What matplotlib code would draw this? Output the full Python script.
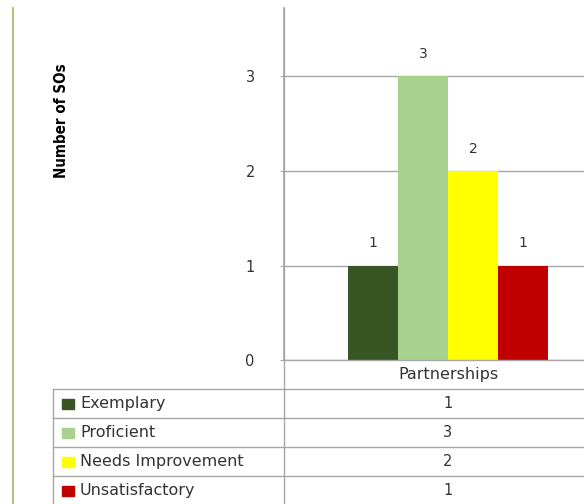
import matplotlib.pyplot as plt
from matplotlib.lines import Line2D
from matplotlib.patches import Rectangle

# data ---------------------
category = "Partnerships"
series = ["Exemplary", "Proficient", "Needs Improvement", "Unsatisfactory"]
values = [1, 3, 2, 1]
colors = ["#375623", "#A9D18E", "#FFFF00", "#C00000"]
yticks = [0, 1, 2, 3]

W, H = 584, 504
fig = plt.figure(figsize=(W / 100, H / 100), dpi=100)


def fx(px):
    return px / W


def fy(py):
    return 1 - py / H


# plot area: y axis at x=284, baseline at y=360, top at y=8; category spans 284..612
ax = fig.add_axes([fx(284), fy(360), fx(584 - 284), fy(8) - fy(360)])
span = 328.0
ax.set_xlim(-0.5, -0.5 + 300 / span)
ax.set_ylim(0, (360 - 8) / 94.5)

bw = 50 / span
grey = "#A6A6A6"
txt = "#333333"
for i, (name, v, c) in enumerate(zip(series, values, colors)):
    x = (i - 1.5) * bw
    ax.bar(x, v, width=bw, color=c, zorder=3)
    ax.annotate(str(v), (x, v), xytext=(0, 11), textcoords="offset points",
                ha="center", va="bottom", fontsize=10, color=txt)

ax.set_yticks(yticks)
ax.set_yticklabels([str(t) for t in yticks], fontsize=10.5, color=txt)
ax.tick_params(axis="y", length=3, color=grey, pad=18)
ax.set_xticks([])
ax.grid(axis="y", color=grey, linewidth=1, zorder=0)
for s in ["top", "right", "bottom"]:
    ax.spines[s].set_visible(False)
ax.spines["left"].set_color(grey)
ax.spines["left"].set_linewidth(1.2)

fig.text(fx(62), fy(121), "Number of SOs", rotation=90, ha="center", va="center",
         fontsize=10.8, fontweight="bold", fontstretch="condensed", family="DejaVu Sans")

# left green border
fig.add_artist(Line2D([fx(13), fx(13)], [fy(8), fy(504)], color="#9BBB59", linewidth=1.2))

# data table -----------------
row_h = 29
top = 360
cx = 284 + span / 2
tbl = dict(color=grey, linewidth=1)
fig.add_artist(Line2D([fx(284), fx(584)], [fy(top), fy(top)], **tbl))
fig.add_artist(Line2D([fx(284), fx(284)], [fy(8), fy(504)], **tbl))
fig.text(fx(cx), fy(top + row_h / 2), category, ha="center", va="center",
         fontsize=11.5, color=txt)
for i, (name, v, c) in enumerate(zip(series, values, colors)):
    y0 = top + row_h * (i + 1)
    fig.add_artist(Line2D([fx(53), fx(584)], [fy(y0), fy(y0)], **tbl))
    ym = y0 + row_h / 2
    fig.add_artist(Rectangle((fx(62), fy(ym + 5)), fx(12), fy(ym - 5) - fy(ym + 5),
                             color=c, transform=fig.transFigure))
    fig.text(fx(80), fy(ym), name, ha="left", va="center", fontsize=11.5, color=txt)
    fig.text(fx(cx), fy(ym), str(v), ha="center", va="center", fontsize=10.5, color=txt)
fig.add_artist(Line2D([fx(53), fx(53)], [fy(top + row_h), fy(504)], **tbl))

fig.savefig("out.png", dpi=100)
